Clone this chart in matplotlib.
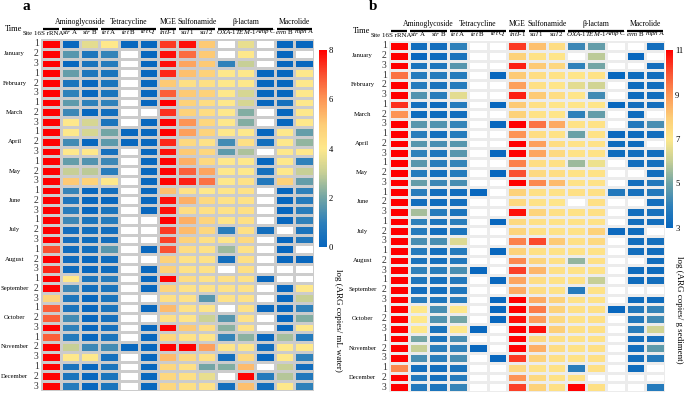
import numpy as np
import matplotlib.pyplot as plt
from matplotlib.colors import LinearSegmentedColormap, ListedColormap

plt.rcParams['font.family'] = 'Liberation Serif'
plt.rcParams['mathtext.fontset'] = 'custom'
plt.rcParams['mathtext.rm'] = 'Liberation Serif'
plt.rcParams['mathtext.it'] = 'Liberation Serif:italic'

nan = np.nan

months = ['January', 'February', 'March', 'April', 'May', 'June', 'July',
          'August', 'September', 'October', 'November', 'December']
sites = ['1', '2', '3']
genes = ['16S rRNA', r'$\it{str}$ A', r'$\it{str}$ B', r'$\it{tet}$ A', r'$\it{tet}$ B',
         r'$\it{tet}$ Q', r'$\it{intI}$-1', r'$\it{sul}$ 1', r'$\it{sul}$ 2',
         r'$\it{OXA}$-1', r'$\it{TEM}$-1', r'$\it{Amp}$ C', r'$\it{erm}$ B', r'$\it{mph}$ A']
groups = ['', 'Aminoglycoside', 'Tetracycline', 'MGE', 'Sulfonamide', '\u03b2-lactam', 'Macrolide']
group_cols = [(0, 1), (1, 3), (3, 6), (6, 7), (7, 9), (9, 12), (12, 14)]

# log ARG copies / mL water (rows: month x site)
water = np.array([
    [8, 0, 3.5, 4, 0, 0, 7.3, 7.8, 5, nan, 3.6, nan, 0, 0],
    [8, 1.6, 0.6, 1.1, nan, 0, 7.8, 6.6, 5, nan, 4, nan, 0, nan],
    [8, 0, 0.5, 0.8, nan, 0, 7.8, 5.7, 5, 1, 3, nan, 0, 0],
    [8, 1.8, 0.6, 0.5, nan, 0, 7.5, 5.2, 4.8, 4, 4, 0, 0, 4],
    [8, 0.5, 0, 0.5, nan, 0, 5, 4.3, 4.3, 4, 4, 0, 0, 4],
    [8, 1, 0, 0.5, nan, 0, 6.8, 5, 4.8, 4, 3.3, 0, 0, 4],
    [8, 1.7, 1, 1, nan, 0, 8, 4.8, 4.4, 4, 3.3, 0, 0.4, 4],
    [8, 1.2, 0, 0.3, nan, nan, 7.4, 4.8, 4.4, 4, 2.2, nan, 0, 4],
    [8, 4, 3.3, 0.5, nan, 0, 8, 6, 4.6, 4, 2.2, nan, 0, 4],
    [8, 4, 3.3, 2, 0, 0, 8, 5.8, 4.7, 4, 4, 0, 4, 1.8],
    [8, 1.3, 0, 1.7, 0, 0, 7.5, 4.5, 4.2, 1.3, 4.3, 0.3, 4, 2.4],
    [8, 4, 4, 0.4, nan, 0, 7.8, 5, 4.6, 1.7, 2.7, nan, 4, 4],
    [8, 1.8, 1.5, 1.2, nan, 0, 8, 5.5, 4.5, 4, 4, 0, 4, 1],
    [8, 3, 2.9, 0.9, nan, 0, 8, 6.8, 5.7, 4, 4, 0.4, 4, 3],
    [8, 5, 4.8, 4, nan, 0, 8, 7.6, 6.5, 4, 4.2, 0.7, 4.8, 1.8],
    [8, 1.1, 0, 0.3, nan, 0, 5.2, 4.2, 4, 4.1, 4.2, nan, 0, 1],
    [8, 0.6, 0, 0, nan, 0, 7.8, 5.5, 4.5, 4.2, 4.2, nan, 0, 0.8],
    [8, 0.9, 0, 0.5, nan, 0, 7.8, 4.4, 4.3, 4.2, 4.3, nan, 0, 0.9],
    [8, 1.2, 0.5, 0.8, nan, nan, 8, 5.5, 4.7, 4.1, 4.3, nan, 0, 1],
    [8, 0.3, 0.3, 0.3, nan, nan, 7.3, 5.3, 4.6, 0.9, 4.3, 0.3, nan, 0.5],
    [8, 0.3, 0.2, 0.3, nan, nan, 7.2, 4.8, 4.3, 4.1, 4.5, nan, 0, 0.7],
    [7, 0.2, 0.3, 1.6, nan, 0, 7, 4.4, 4.2, 2.5, 4.2, nan, 0, nan],
    [8, 0.2, 0, 0.2, nan, nan, 4.8, 4.2, 4.2, 0.3, 4.3, nan, 0, 0],
    [7.5, 0.2, 0, 0.2, nan, 0, 4.8, 4.2, 4.2, nan, 4.3, nan, nan, nan],
    [8, 4, 0.5, 0.8, nan, 0, 8, 4.4, 4.2, 4.3, 4.2, 0, nan, nan],
    [8, 1.2, 0.3, 0.5, nan, 0, 4.7, 4.2, 4.2, 4.2, 4.2, nan, 0, 4],
    [4.7, 0.6, 0, 0.5, nan, nan, 4.3, 4.2, 1.6, 4.2, 4.2, nan, 0, 3],
    [6.8, 0.5, 0, 0.5, nan, 0, 5.3, 4.2, 4.1, nan, 4.2, 0, 0, 1],
    [6.8, 1.3, 0, 0.4, nan, nan, 4.3, 4.1, 3.1, 1.6, 4.2, nan, 0, 2.2],
    [8, 1, 0, 0.4, nan, 0, 8, 5, 4.4, 2.3, 4.2, nan, 0, 4],
    [6.8, 0.8, 0, 0.5, nan, 0, 4.6, 4.2, 4.1, 1.1, 2.3, 0, 2.6, 0.8],
    [8, 3, 1.2, 1.3, 0, 0, 8, 8, 5.8, 4.1, 4.1, 0.3, 4, 4],
    [8, 4, 4, 0.4, nan, 0, 5.3, 4.5, 4.3, 0.3, 4.5, 0, 4, 1],
    [8, 0.5, 0, 0.5, nan, 0, 4.6, 4.3, 2, 2.2, 5.3, nan, 3, 0.3],
    [8, 0.5, 0, 0.5, nan, 0, 4.6, 4.3, 3.6, nan, 8, 0.8, 2.8, 0.7],
    [8, 0.8, 0, 0.5, nan, 0, 4.6, 4.3, 4.2, 0.3, 5.2, 0.3, 4, 1],
])

# log ARG copies / g sediment
sediment = np.array([
    [11, 3.3, 3.3, 4, nan, nan, 10.3, 8.2, 7.4, 4.2, 4.8, nan, nan, 3.3],
    [11, 3, 3.2, 3.5, nan, nan, 7.8, 7.2, 7.1, nan, 5.9, nan, 3, nan],
    [11, 3.5, 3.6, 4.6, nan, nan, 10.6, 8, 7.6, 4, 5, nan, nan, 3.3],
    [9.5, 3.8, 3.8, 3.8, nan, 3, 8, 7.4, 7.2, 7.1, 7.2, 3, 3.2, 3.3],
    [11, 3.8, 3.5, 3.8, nan, nan, 8.8, 7.3, 7.1, 6.5, 6.2, nan, 3.2, 3.3],
    [11, 4.5, 3.9, 6.5, nan, nan, 10.6, 8, 7.4, 7.1, 4.3, nan, 3.2, 3.3],
    [10.4, 3.4, 3.2, 3.8, nan, 3, 8, 7.3, 7.1, 7.1, 7.1, 3, 3.3, 3.3],
    [9, 3.2, 3.2, 3.3, nan, nan, 7.8, 7.2, 7.1, 4, 4.8, nan, 3.2, nan],
    [11, 4.6, 4.5, 4.1, nan, 3, 11, 9.5, 8.6, 7.2, 7.2, nan, 3.7, 4.4],
    [11, 3.9, 3.4, 3.8, nan, nan, 9, 7.4, 7.2, 4.9, 7.2, 3.1, 3.2, 3.3],
    [11, 4.6, 4.4, 4.6, nan, nan, 11, 8.8, 7.4, 7.2, 7.2, 3.2, 3.2, nan],
    [11, 4, 3.6, 4.6, nan, 3, 11, 8.7, 7.5, 7.2, 7.2, 3.2, 3.3, 3.3],
    [11, 4.6, 3.9, 4.1, nan, nan, 9.3, 7.4, 7.3, 5.5, 6.7, nan, 3.3, 3.4],
    [11, 3.8, 3.4, 3.8, nan, 3, 10, 7.5, 7.4, 7.2, 7.2, nan, nan, 3.3],
    [11, 4.8, 4.2, 4.4, nan, nan, 11, 9.2, 8.3, 7.2, 7.2, nan, 3.3, 3.7],
    [11, 3.9, 3.3, 3.3, 3, nan, 7.8, 7.3, 7.2, 7.3, 7.3, 3.7, 3.4, 3.7],
    [11, 3.3, 3.2, 3.3, nan, nan, 7.5, 7.2, 7.1, nan, 7.3, nan, nan, 3.3],
    [11, 5.6, 3.8, 3.5, nan, nan, 10.8, 7.7, 7.3, 7.2, 7.3, nan, 3.3, 3.4],
    [11, 4, 3.5, 3.9, nan, 3, 7.5, 7.3, 7.2, 7.2, 7.2, nan, 3.3, 3.3],
    [11, 3.8, 3.3, 3.5, nan, nan, 7.7, 7.3, 7.2, 7.2, 7.8, 3.1, 3.2, nan],
    [11, 4.4, 4.4, 6.4, nan, nan, 9.3, 10.1, 8, 7.3, 7.5, nan, 3.3, 3.4],
    [11, 3.8, 3.4, 3.8, nan, 3, 7.8, 7.3, 7.2, 7.2, 7.2, nan, 3.3, 3.3],
    [11, 3.5, 3.4, 3.7, nan, nan, 9.2, 7.7, 7.3, 5.4, 7.3, nan, nan, 3.3],
    [11, 4, 3.9, 4.4, 3, nan, 10.2, 8.4, 7.3, 7.2, 7.2, nan, 3.2, 3.2],
    [11, 3.6, 3.4, 3.7, nan, 3, 8.7, 7.4, 7.2, 7.2, 6, nan, 3.2, 3.3],
    [11, 3.3, 3.3, 3.6, nan, nan, 8.6, 7.4, 7.2, 3.8, 7.2, nan, nan, nan],
    [11, 3.9, 3.6, 3.9, nan, 3, 11, 8.6, 7.8, 7.2, 7.2, nan, 3.2, 3.2],
    [11, 7, 4.4, 7, nan, 3, 11, 9.4, 7.8, 7.3, 7.3, 3, 3.7, 4.1],
    [11, 7, 4.5, 5, nan, 3, 10.8, 8.9, 7.5, 7.2, 7.3, nan, 3.7, 4.3],
    [11, 7, 3.5, 7, 3, nan, 11, 10.8, 7.9, 7.3, 7.3, nan, 3.9, 6.2],
    [11, 5, 3.5, 4.4, nan, nan, 11, 7.5, 7.3, 7.2, 7.2, nan, 3.3, 3.4],
    [11, 6, 3.9, 4, 3, nan, 11, 8.5, 7.4, 7.2, 7.3, nan, 3.3, 4.7],
    [11, 4.4, 3.9, 4.4, nan, 3, 10.3, 7.8, 7.3, 7.2, 7.3, nan, 3.3, 3.8],
    [9.2, 3.3, 3.3, 3.5, nan, nan, 7.5, 7.2, 7.2, 3.9, 7.3, nan, 3.2, nan],
    [11, 3.7, 3.4, 3.8, nan, nan, 9, 7.5, 7.2, 7.2, nan, nan, nan, nan],
    [11, 3.7, 3.5, 4.1, nan, nan, 10.2, 7.8, 7.3, 11, 7.3, nan, nan, 3.8],
])

cmap = LinearSegmentedColormap.from_list('arg', [
    (0.0, '#0867be'), (0.12, '#2c7fbb'), (0.25, '#72a5a5'), (0.375, '#c6cf96'),
    (0.5, '#fee88b'), (0.62, '#fdcd77'), (0.75, '#fd9656'), (0.875, '#fa5232'),
    (1.0, '#ff0000')])

W, H = 685, 393
fig = plt.figure(figsize=(W / 100, H / 100), dpi=100)


def px_axes(x0, y0, x1, y1):
    return fig.add_axes([x0 / W, 1 - y1 / H, (x1 - x0) / W, (y1 - y0) / H])


def panel(data, box, cbox, vmin, vmax, ticks, grid, label, lx, ly, letter, letpos):
    ax = px_axes(*box)
    ax.pcolormesh(np.zeros_like(data), cmap=ListedColormap(['white']),
                  edgecolors=grid, linewidth=0.8)
    m = ax.pcolormesh(np.ma.masked_invalid(data), cmap=cmap, vmin=vmin, vmax=vmax,
                      edgecolors=grid, linewidth=0.8)
    ax.set_xlim(0, 14)
    ax.set_ylim(36, 0)
    ax.axis('off')

    for j, g in enumerate(genes):
        xj = j + 0.5 if j > 0 else 0.4
        ax.text(xj, -0.3, g, ha='center', va='bottom', fontsize=5, clip_on=False)
    for g, (c0, c1) in zip(groups, group_cols):
        ax.plot([c0 + 0.08, c1 - 0.08], [-0.98, -0.98], color='black', lw=1.6,
                clip_on=False, solid_capstyle='butt')
        ax.text((c0 + c1) / 2, -1.3, g, ha='center', va='bottom', fontsize=5.5, clip_on=False)
    ax.text(-0.45, -0.3, 'Site', ha='right', va='bottom', fontsize=4.6, clip_on=False)
    ax.text(-1.4, -1.0, 'Time', ha='center', va='center', fontsize=6, clip_on=False)
    for i, mo in enumerate(months):
        ax.text(-1.35, 3 * i + 1.5, mo, ha='center', va='center', fontsize=4.8, clip_on=False)
        for k, s in enumerate(sites):
            ax.text(-0.12, 3 * i + k + 0.5, s, ha='right', va='center', fontsize=7,
                    color='#333333', clip_on=False)

    cax = px_axes(*cbox)
    cb = fig.colorbar(m, cax=cax, ticks=ticks)
    cb.outline.set_visible(False)
    cax.tick_params(length=0, labelsize=6.2, pad=1.5)
    fig.text(lx / W, 1 - ly / H, label, rotation=270, ha='center', va='center', fontsize=6.5)
    fig.text(letpos[0] / W, 1 - letpos[1] / H, letter, fontsize=11, fontweight='bold',
             ha='center', va='center')


panel(water, (41, 39, 314, 391), (319, 50, 327, 247), 0, 8, [0, 2, 4, 6, 8], '#cccccc',
      'log (ARG copies/ mL water)', 338, 320, 'a', (26, 7))
panel(sediment, (389, 41, 665, 392), (666, 50, 673, 228), 3, 11, [3, 5, 7, 9, 11], '#ececec',
      'log (ARG copies/ g sediment)', 679, 310, 'b', (373, 7))

fig.savefig('out.png', dpi=100)
